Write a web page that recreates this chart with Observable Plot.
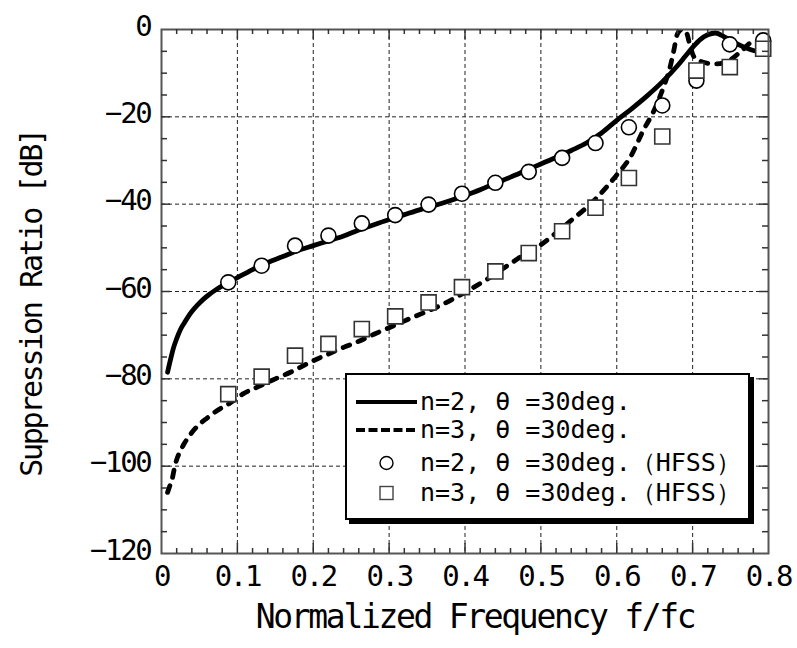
<!DOCTYPE html>
<html><head><meta charset="utf-8">
<script src="https://cdn.jsdelivr.net/npm/d3@7"></script>
<script src="https://cdn.jsdelivr.net/npm/@observablehq/plot@0.6"></script>
<style>
body{margin:0;background:#fff;}
#wrap{position:relative;width:797px;height:648px;}
#legend{position:absolute;left:345px;top:373px;width:405px;height:147px;box-sizing:border-box;border:2.5px solid #000;box-shadow:4px 4px 0 #000;background:#fff;font-family:'DejaVu Sans Mono',monospace;font-size:25px;color:#000;}
.row{position:absolute;left:6px;height:30px;display:flex;align-items:center;white-space:nowrap;}
.row svg{flex:none;margin-right:3px;}
</style></head>
<body><div id="wrap"><div id="chart"></div><div id="legend"></div></div>
<script>
// ---- data ----
const n2Freq = [0.008,0.012,0.016,0.02,0.025,0.03,0.035,0.04,0.047,0.055,0.062,0.07,0.08,0.09,0.1,0.11,0.12,0.14,0.16,0.18,0.2,0.22,0.24,0.26,0.28,0.3,0.32,0.34,0.36,0.38,0.4,0.42,0.44,0.46,0.48,0.5,0.52,0.54,0.56,0.58,0.6,0.62,0.64,0.66,0.68,0.69,0.7,0.71,0.72,0.73,0.74,0.75,0.76,0.77,0.78,0.79];
const n2dB = [-78.5,-75.5,-72.8,-70.8,-68.7,-67.2,-65.8,-64.6,-63.2,-61.8,-60.8,-59.8,-58.7,-57.8,-56.8,-55.9,-55.0,-53.4,-52.0,-50.6,-49.5,-48.4,-47.3,-45.9,-44.7,-43.5,-42.4,-41.3,-40.3,-39.2,-38.0,-36.7,-35.2,-33.8,-32.3,-30.8,-29.3,-27.7,-26.0,-23.7,-20.8,-18.1,-15.2,-12.0,-8.3,-6.2,-4.1,-2.3,-1.2,-0.8,-1.5,-2.5,-3.4,-4.2,-4.8,-5.2];

const n3Freq = [0.008,0.011,0.014,0.017,0.02,0.025,0.03,0.035,0.04,0.05,0.06,0.073,0.09,0.108,0.13,0.15,0.17,0.196,0.22,0.24,0.26,0.28,0.3,0.33,0.37,0.4,0.43,0.46,0.48,0.5,0.515,0.54,0.56,0.585,0.6,0.618,0.635,0.649,0.662,0.67,0.675,0.68,0.686,0.692,0.697,0.702,0.714,0.73,0.75,0.765,0.78,0.795];
const n3dB = [-106.0,-104.5,-103.0,-100.5,-98.5,-96.5,-94.8,-93.5,-92.3,-90.4,-89.0,-87.3,-85.6,-83.4,-81.6,-80.0,-78.5,-76.2,-74.3,-72.8,-71.4,-69.8,-68.3,-66.0,-63.0,-60.2,-57.1,-53.6,-51.3,-49.3,-47.3,-43.7,-40.8,-36.4,-33.3,-29.2,-23.1,-18.6,-13.0,-8.8,-5.0,-1.0,0,-0.8,-4.0,-6.3,-7.5,-7.9,-6.9,-4.8,-2.8,-3.4];

const hfssFreq = [0.088,0.132,0.176,0.22,0.264,0.308,0.352,0.396,0.44,0.484,0.528,0.572,0.616,0.66,0.705,0.749,0.793];
const hfss2dB = [-57.9,-54.1,-49.5,-47.2,-44.4,-42.5,-40.1,-37.6,-35.1,-32.6,-29.4,-26.0,-22.4,-17.4,-11.7,-3.4,-2.5];
const hfss3dB = [-83.5,-79.5,-74.7,-72.0,-68.6,-65.7,-62.5,-59.0,-55.4,-51.2,-46.2,-40.8,-34.0,-24.5,-9.4,-8.6,-4.4];

const xTickLabels = [0,0.1,0.2,0.3,0.4,0.5,0.6,0.7,0.8];
const yTickLabels = [0,-20,-40,-60,-80,-100,-120];
const xTitle = "Normalized Frequency f/fc";
const yTitle = "Suppression Ratio [dB]";
const legendLabels = ["n=2, θ =30deg.","n=3, θ =30deg.","n=2, θ =30deg.（HFSS）","n=3, θ =30deg.（HFSS）"];

// ---- derived ----
const xDomain = [0, 0.8], yDomain = [-120, 0];
const n2 = n2Freq.map((f,i)=>({f, dB:n2dB[i]}));
const n3 = n3Freq.map((f,i)=>({f, dB:n3dB[i]}));
const h2 = hfssFreq.map((f,i)=>({f, dB:hfss2dB[i]}));
const h3 = hfssFreq.map((f,i)=>({f, dB:hfss3dB[i]}));
const xGrid = xTickLabels.slice(1,-1);
const yGrid = yTickLabels.slice(1,-1);
const xMinor = d3.range(1,40).filter(i=>i%5!==0).map(i=>i/50);
const yMinor = d3.range(1,24).filter(i=>i%4!==0).map(i=>-5*i);

const tickStyle = {stroke:"#333", strokeWidth:1.5};
const gridStyle = {stroke:"#222", strokeWidth:1, strokeDasharray:"4,3"};

const chart = Plot.plot({
  width:797, height:648,
  marginLeft:161, marginRight:29, marginTop:29, marginBottom:95,
  x:{domain:xDomain},
  y:{domain:yDomain},
  style:{fontFamily:"'DejaVu Sans Mono', monospace", fontSize:"29px", letterSpacing:"-0.08em", color:"#000", background:"#fff"},
  marks:[
    Plot.ruleX(xGrid, gridStyle),
    Plot.ruleY(yGrid, gridStyle),
    Plot.line(n2, {x:"f", y:"dB", curve:"monotone-x", stroke:"#000", strokeWidth:4.8, clip:true}),
    Plot.line(n3, {x:"f", y:"dB", curve:"monotone-x", stroke:"#000", strokeWidth:4.8, strokeDasharray:"7,9", strokeLinecap:"round", clip:true}),
    Plot.dot(h2, {x:"f", y:"dB", r:7.5, fill:"#fff", stroke:"#000", strokeWidth:1.6}),
    Plot.dot(h3, {x:"f", y:"dB", symbol:"square", r:8.5, fill:"#fff", stroke:"#333", strokeWidth:1.6}),
    Plot.frame({stroke:"#555", strokeWidth:2}),
    // inward ticks
    Plot.ruleX(xMinor, {y1:yDomain[0], y2:yDomain[0], insetTop:-5, ...tickStyle}),
    Plot.ruleX(xMinor, {y1:yDomain[1], y2:yDomain[1], insetBottom:-5, ...tickStyle}),
    Plot.ruleX(xGrid, {y1:yDomain[0], y2:yDomain[0], insetTop:-10, ...tickStyle}),
    Plot.ruleX(xGrid, {y1:yDomain[1], y2:yDomain[1], insetBottom:-10, ...tickStyle}),
    Plot.ruleY(yMinor, {x1:xDomain[0], x2:xDomain[0], insetRight:-6, ...tickStyle}),
    Plot.ruleY(yMinor, {x1:xDomain[1], x2:xDomain[1], insetLeft:-6, ...tickStyle}),
    Plot.ruleY(yGrid, {x1:xDomain[0], x2:xDomain[0], insetRight:-9, ...tickStyle}),
    Plot.ruleY(yGrid, {x1:xDomain[1], x2:xDomain[1], insetLeft:-9, ...tickStyle}),
    // tick labels
    Plot.axisX({ticks:xTickLabels, tickSize:0, tickPadding:12, label:null, tickFormat:d=>d===0?"0":d.toFixed(1)}),
    Plot.axisY({ticks:yTickLabels, tickSize:0, tickPadding:11, dy:-3, label:null, tickFormat:d=>d===0?"0":"\u2212"+Math.abs(d)}),
    // titles
    Plot.text([xTitle], {text:d=>d, frameAnchor:"bottom", lineAnchor:"middle", textAnchor:"middle", dy:64, dx:10, fontSize:33}),
    Plot.text([yTitle], {text:d=>d, frameAnchor:"left", lineAnchor:"middle", textAnchor:"middle", rotate:-90, dx:-129, dy:12, fontSize:30})
  ]
});
document.getElementById("chart").append(chart);

// ---- legend ----
const legend = d3.select("#legend");
const rowTops = [11.5, 39.5, 72.5, 102.5];
const keys = ["solid","dashed","circle","square"];
keys.forEach((k,i)=>{
  const row = legend.append("div").attr("class","row").style("top", rowTops[i]+"px");
  const s = row.append("svg").attr("width",64).attr("height",30);
  if (k==="solid") s.append("line").attr("x1",3).attr("x2",64).attr("y1",15).attr("y2",15).attr("stroke","#000").attr("stroke-width",4);
  if (k==="dashed") s.append("line").attr("x1",3).attr("x2",64).attr("y1",15).attr("y2",15).attr("stroke","#000").attr("stroke-width",4).attr("stroke-dasharray","9,3.5");
  if (k==="circle") s.append("circle").attr("cx",33.5).attr("cy",15).attr("r",6.5).attr("fill","#fff").attr("stroke","#000").attr("stroke-width",1.4);
  if (k==="square") s.append("rect").attr("x",27).attr("y",8.5).attr("width",13).attr("height",13).attr("fill","#fff").attr("stroke","#444").attr("stroke-width",1.4);
  row.append("span").text(legendLabels[i]);
});
</script>
</body></html>
